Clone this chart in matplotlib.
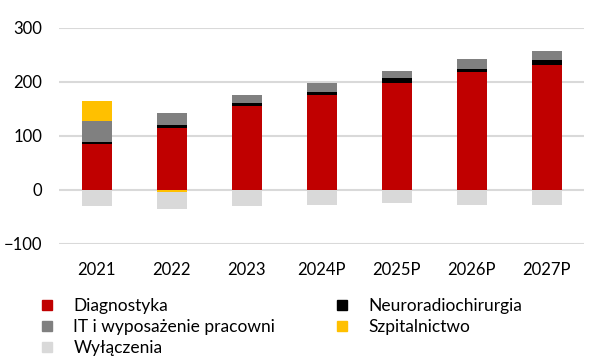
import matplotlib
matplotlib.use("Agg")
import matplotlib.pyplot as plt
from matplotlib.lines import Line2D
import numpy as np

categories = ["2021", "2022", "2023", "2024P", "2025P", "2026P", "2027P"]
diagnostyka = [86, 115, 155, 175, 198, 218, 231]
neuro = [2, 6, 6, 6, 10, 6, 9]
it_wyp = [40, 21, 14, 17, 13, 18, 18]
szpital = [37, -4, 0, 0, 0, 0, 0]
wylaczenia = [-30, -32, -29, -27, -24, -27, -27]
yticks = [-100, 0, 100, 200, 300]

c_diag = "#C00000"
c_neuro = "#000000"
c_it = "#808080"
c_szp = "#FFC000"
c_wyl = "#D9D9D9"

plt.rcParams['font.family'] = ['Lato', 'DejaVu Sans']

fig = plt.figure(figsize=(6.15, 3.63), dpi=100)
ax = fig.add_axes([0.096, 0.328, 0.854, 0.595])

x = np.arange(len(categories))
w = 0.4
d = np.array(diagnostyka, float)
n = np.array(neuro, float)
it = np.array(it_wyp, float)
s = np.array(szpital, float)
wy = np.array(wylaczenia, float)

ax.bar(x, d, w, color=c_diag, zorder=3)
ax.bar(x, n, w, bottom=d, color=c_neuro, zorder=3)
ax.bar(x, it, w, bottom=d + n, color=c_it, zorder=3)
pos_s = np.where(s > 0, s, 0)
neg_s = np.where(s < 0, s, 0)
ax.bar(x, pos_s, w, bottom=d + n + it, color=c_szp, zorder=3)
ax.bar(x, neg_s, w, color=c_szp, zorder=3)
ax.bar(x, wy, w, bottom=neg_s, color=c_wyl, zorder=3)

ax.set_xlim(-0.5, len(categories) - 0.5)
ax.set_ylim(-100, 300)
ax.set_yticks(yticks)
ax.set_xticks(x)
ax.set_xticklabels(categories)
ax.tick_params(axis='both', length=0, labelsize=12, colors='#000000')
ax.tick_params(axis='y', pad=12.2)
ax.tick_params(axis='x', pad=13)
ax.grid(axis='y', color='#D9D9D9', linewidth=1.5, zorder=0)
for sp in ax.spines.values():
    sp.set_visible(False)

def h(c):
    return Line2D([], [], marker='s', linestyle='none', markersize=7.3,
                  markerfacecolor=c, markeredgecolor=c)

handles = [h(c_diag), h(c_it), h(c_wyl), h(c_neuro), h(c_szp)]
labels = ["Diagnostyka", "IT i wyposażenie pracowni", "Wyłączenia",
          "Neuroradiochirurgia", "Szpitalnictwo"]
fig.legend(handles, labels, ncol=2, loc='upper left',
           bbox_to_anchor=(0.0675, 0.178), frameon=False, fontsize=12.5,
           handlelength=0.6, handletextpad=1.23, columnspacing=3.53,
           labelspacing=0.29, borderpad=0, borderaxespad=0)

fig.savefig("out.png", dpi=100)
